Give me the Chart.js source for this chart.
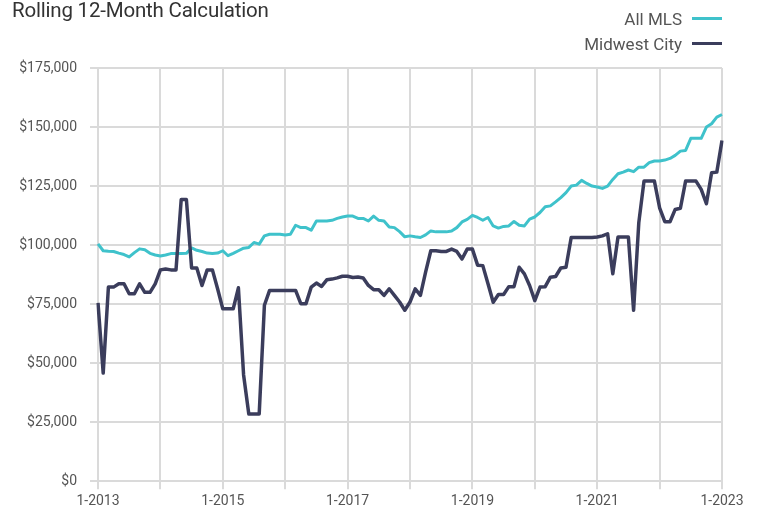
<!DOCTYPE html>
<html>
<head>
<meta charset="utf-8">
<script src="https://cdn.jsdelivr.net/npm/chart.js@4/dist/chart.umd.min.js"></script>
<style>
  html, body { margin: 0; padding: 0; background: #fff; }
  #wrap { position: relative; width: 758px; height: 515px; overflow: hidden; }
  #title { position: absolute; left: 12px; top: -2px; font-family: Roboto, "Liberation Sans", sans-serif; font-size: 20.5px; color: #333; white-space: nowrap; letter-spacing: -0.2px; }
  #legend { position: absolute; right: 36px; top: 6px; font-family: Roboto, "Liberation Sans", sans-serif; font-size: 17px; color: #555; }
  .li { display: flex; align-items: center; justify-content: flex-end; height: 25px; }
  .sw { display: inline-block; width: 30px; height: 3px; margin-left: 10px; }
  canvas { position: absolute; left: 0; top: 0; }
</style>
</head>
<body>
<div id="wrap">
  <canvas id="c" width="758" height="515"></canvas>
  <div id="title">Rolling 12-Month Calculation</div>
  <div id="legend"></div>
</div>
<script>
// Monthly values (in thousands of dollars), Jan 2013 .. Jan 2023
const startYear = 2013;
const seriesNames = ["All MLS", "Midwest City"];
const seriesColors = ["#3fc2cb", "#3b3d5c"];
const allMLS = [
  100.5, 97.6, 97.4, 97.3, 96.6, 96.0, 95.0, 96.8, 98.4, 98.0, 96.5, 95.8,
  95.4, 95.8, 96.4, 96.4, 96.4, 96.5, 98.8, 97.8, 97.3, 96.6, 96.4, 96.6,
  97.6, 95.5, 96.5, 97.6, 98.7, 99.0, 101.1, 100.4, 103.9, 104.6, 104.6, 104.6,
  104.3, 104.6, 108.4, 107.4, 107.4, 106.3, 110.2, 110.2, 110.2, 110.5, 111.3, 111.9,
  112.3, 112.3, 111.3, 111.3, 110.2, 112.3, 110.5, 110.2, 107.7, 107.4, 105.7, 103.5,
  103.9, 103.5, 103.2, 104.3, 106.0, 105.6, 105.6, 105.6, 106.0, 107.4, 109.8, 110.9,
  112.6, 111.7, 110.5, 111.7, 108.1, 107.2, 107.9, 108.1, 110.0, 108.4, 108.1, 111.0,
  111.9, 113.8, 116.2, 116.6, 118.3, 120.1, 122.2, 125.0, 125.4, 127.4, 126.1, 125.0,
  124.6, 124.0, 125.0, 127.8, 130.2, 130.9, 131.8, 131.1, 133.0, 133.0, 134.9, 135.6,
  135.6, 136.0, 136.7, 138.0, 139.8, 140.1, 145.2, 145.2, 145.2, 150.0, 151.4, 154.2,
  155.3
];
const midwestCity = [
  75.5, 45.8, 82.2, 82.2, 83.6, 83.6, 79.4, 79.4, 83.6, 80.0, 80.0, 83.6,
  89.5, 89.9, 89.5, 89.5, 119.3, 119.3, 90.3, 90.3, 82.9, 89.5, 89.5, 81.5,
  73.0, 73.0, 73.0, 81.9, 45.0, 28.5, 28.5, 28.5, 74.5, 80.8, 80.8, 80.8,
  80.8, 80.8, 80.8, 75.2, 75.2, 82.2, 83.9, 82.5, 85.3, 85.6, 86.1, 86.8,
  86.8, 86.3, 86.5, 86.1, 82.9, 81.1, 81.1, 78.7, 81.5, 78.7, 75.9, 72.4,
  75.9, 81.5, 78.7, 88.5, 97.6, 97.6, 97.3, 97.3, 98.3, 97.3, 94.1, 98.3,
  98.3, 91.5, 91.3, 83.6, 75.8, 79.1, 79.1, 82.4, 82.4, 90.6, 87.8, 82.9,
  76.5, 82.2, 82.4, 86.4, 86.7, 90.3, 90.6, 103.2, 103.2, 103.2, 103.2, 103.2,
  103.4, 103.9, 104.8, 87.9, 103.4, 103.4, 103.4, 72.4, 109.5, 127.1, 127.1, 127.1,
  115.8, 109.9, 109.9, 115.1, 115.6, 127.1, 127.1, 127.1, 123.6, 117.5, 130.6, 130.9,
  144.3
];
const yTicks = [0, 25000, 50000, 75000, 100000, 125000, 150000, 175000];

// month categories "M-YYYY"
const months = [];
for (let i = 0; i < allMLS.length; i++) {
  months.push(((i % 12) + 1) + "-" + (startYear + Math.floor(i / 12)));
}

const seriesValues = [allMLS, midwestCity];

// HTML legend
const leg = document.getElementById("legend");
seriesNames.forEach((n, i) => {
  const d = document.createElement("div");
  d.className = "li";
  const t = document.createElement("span");
  t.textContent = n;
  const s = document.createElement("span");
  s.className = "sw";
  s.style.background = seriesColors[i];
  d.appendChild(t); d.appendChild(s);
  leg.appendChild(d);
});

const gridCol = "#dadada";
const fontFam = "Roboto, 'Liberation Sans', sans-serif";

new Chart(document.getElementById("c"), {
  type: "line",
  data: {
    labels: months,
    datasets: seriesNames.map((n, i) => ({
      label: n,
      data: seriesValues[i].map(v => v * 1000),
      borderColor: seriesColors[i],
      backgroundColor: seriesColors[i],
      borderWidth: i === 0 ? 3 : 3.5,
      pointRadius: 0,
      tension: 0,
      borderJoinStyle: "round",
      order: i === 0 ? 1 : 0
    }))
  },
  options: {
    responsive: false,
    animation: false,
    layout: { padding: { top: 68, right: 36, bottom: 1, left: 0 } },
    plugins: { legend: { display: false }, title: { display: false }, tooltip: { enabled: false } },
    scales: {
      x: {
        type: "category",
        offset: false,
        border: { display: false },
        grid: {
          color: ctx => (ctx.index % 12 === 0 ? gridCol : "rgba(0,0,0,0)"),
          lineWidth: 2,
          drawTicks: true,
          tickLength: 8
        },
        ticks: {
          autoSkip: false,
          maxRotation: 0,
          minRotation: 0,
          padding: 4,
          color: "#555",
          font: { family: fontFam, size: 14 },
          callback: function (val, idx) { return idx % 24 === 0 ? months[idx] : ""; }
        }
      },
      y: {
        min: 0,
        max: 175000,
        afterFit: s => { s.width = 98; },
        afterBuildTicks: s => { s.ticks = yTicks.map(v => ({ value: v })); },
        border: { display: false },
        grid: { color: gridCol, lineWidth: 2, tickLength: 8 },
        ticks: {
          padding: 13,
          color: "#555",
          font: { family: fontFam, size: 14 },
          callback: v => "$" + Number(v).toLocaleString("en-US")
        }
      }
    }
  }
});
</script>
</body>
</html>
